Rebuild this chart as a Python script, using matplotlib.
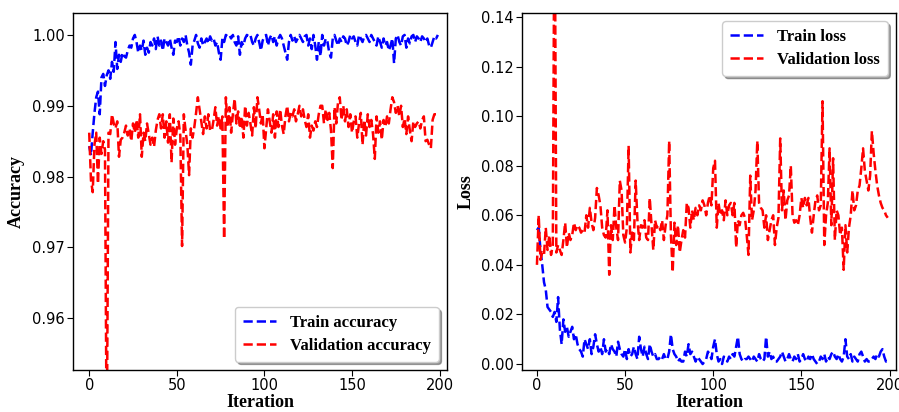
#!/usr/bin/env python3
import matplotlib
matplotlib.use("Agg")
import matplotlib.pyplot as plt
import numpy as np

# ─── Data ──────────────────────────────────────────────────────────────────────
TRAIN_ACC = [
    0.9843, 0.9830, 0.9862, 0.9890, 0.9912, 0.9920, 0.9888, 0.9940, 0.9945, 0.9928,
    0.9943, 0.9950, 0.9938, 0.9962, 0.9948, 0.9990, 0.9952, 0.9972, 0.9962, 0.9975,
    0.9970, 0.9968, 0.9978, 0.9985, 0.9982, 0.9995, 1.0000, 0.9990, 0.9975, 0.9985,
    0.9978, 0.9992, 0.9972, 0.9982, 0.9975, 0.9990, 0.9985, 0.9995, 0.9980, 0.9998,
    0.9985, 0.9992, 0.9978, 0.9995, 0.9990, 0.9985, 0.9995, 0.9982, 0.9972, 0.9992,
    0.9990, 0.9998, 0.9985, 0.9995, 0.9990, 1.0000, 0.9985, 0.9975, 0.9958, 0.9985,
    0.9992, 1.0000, 0.9988, 0.9982, 0.9995, 0.9985, 0.9990, 0.9995, 0.9988, 0.9998,
    0.9992, 0.9995, 0.9985, 0.9990, 0.9975, 0.9965, 0.9995, 0.9990, 1.0000, 0.9998,
    1.0000, 0.9995, 1.0000, 0.9990, 0.9985, 0.9998, 0.9972, 0.9990, 0.9985, 0.9995,
    1.0000, 0.9998, 1.0000, 0.9990, 0.9985, 0.9995, 1.0000, 0.9990, 0.9978, 0.9992,
    0.9998, 1.0000, 0.9985, 0.9995, 1.0000, 0.9990, 0.9998, 0.9985, 0.9995, 1.0000,
    0.9995, 0.9985, 0.9975, 0.9965, 0.9990, 1.0000, 0.9992, 0.9998, 0.9990, 0.9995,
    1.0000, 0.9995, 0.9990, 0.9998, 1.0000, 0.9985, 0.9995, 0.9980, 1.0000, 0.9985,
    0.9965, 0.9990, 0.9970, 1.0000, 0.9985, 0.9995, 0.9990, 0.9975, 0.9968, 0.9995,
    1.0000, 0.9992, 0.9985, 0.9995, 0.9990, 0.9998, 0.9995, 0.9985, 0.9990, 1.0000,
    0.9995, 0.9998, 0.9990, 0.9985, 1.0000, 0.9995, 0.9990, 0.9998, 1.0000, 0.9995,
    0.9990, 1.0000, 0.9995, 0.9990, 0.9985, 0.9998, 0.9990, 0.9982, 0.9995, 0.9985,
    0.9990, 0.9978, 0.9985, 0.9995, 0.9960, 0.9995, 1.0000, 0.9990, 0.9985, 0.9998,
    1.0000, 0.9982, 0.9995, 0.9988, 0.9998, 1.0000, 0.9990, 0.9998, 0.9995, 0.9990,
    0.9998, 0.9995, 0.9990, 0.9995, 0.9985, 0.9982, 0.9990, 0.9998, 0.9995, 1.0000,
]
VAL_ACC = [
    0.9862, 0.9795, 0.9778, 0.9845, 0.9862, 0.9790, 0.9855, 0.9832, 0.9850, 0.9838,
    0.9400, 0.9862, 0.9860, 0.9888, 0.9875, 0.9868, 0.9878, 0.9828, 0.9852, 0.9855,
    0.9862, 0.9872, 0.9858, 0.9868, 0.9850, 0.9875, 0.9862, 0.9880, 0.9855, 0.9888,
    0.9828, 0.9862, 0.9850, 0.9875, 0.9860, 0.9845, 0.9855, 0.9842, 0.9865, 0.9880,
    0.9888, 0.9868, 0.9888, 0.9855, 0.9878, 0.9848, 0.9888, 0.9820, 0.9882, 0.9845,
    0.9868, 0.9878, 0.9858, 0.9702, 0.9888, 0.9865, 0.9845, 0.9802, 0.9868, 0.9855,
    0.9870, 0.9890, 0.9912, 0.9895, 0.9878, 0.9860, 0.9885, 0.9868, 0.9888, 0.9865,
    0.9865, 0.9880, 0.9898, 0.9872, 0.9885, 0.9868, 0.9885, 0.9712, 0.9912, 0.9870,
    0.9898, 0.9862, 0.9888, 0.9910, 0.9875, 0.9892, 0.9868, 0.9885, 0.9855, 0.9900,
    0.9872, 0.9890, 0.9875, 0.9858, 0.9898, 0.9868, 0.9912, 0.9895, 0.9875, 0.9888,
    0.9840, 0.9868, 0.9895, 0.9878, 0.9862, 0.9888, 0.9855, 0.9892, 0.9870, 0.9895,
    0.9872, 0.9860, 0.9885, 0.9900, 0.9878, 0.9890, 0.9885, 0.9895, 0.9878, 0.9888,
    0.9900, 0.9885, 0.9895, 0.9880, 0.9870, 0.9888, 0.9855, 0.9872, 0.9865, 0.9878,
    0.9870, 0.9888, 0.9900, 0.9900, 0.9875, 0.9895, 0.9880, 0.9890, 0.9865, 0.9812,
    0.9898, 0.9875, 0.9905, 0.9912, 0.9880, 0.9900, 0.9878, 0.9895, 0.9870, 0.9888,
    0.9862, 0.9878, 0.9885, 0.9855, 0.9875, 0.9890, 0.9845, 0.9880, 0.9858, 0.9888,
    0.9870, 0.9880, 0.9860, 0.9825, 0.9885, 0.9862, 0.9878, 0.9852, 0.9880, 0.9870,
    0.9885, 0.9875, 0.9895, 0.9912, 0.9905, 0.9890, 0.9900, 0.9885, 0.9900, 0.9870,
    0.9882, 0.9860, 0.9885, 0.9865, 0.9850, 0.9878, 0.9870, 0.9875, 0.9878, 0.9868,
    0.9880, 0.9885, 0.9850, 0.9852, 0.9845, 0.9840, 0.9880, 0.9888, 0.9888, 0.9888,
]
TRAIN_LOSS = [
    0.054, 0.055, 0.046, 0.040, 0.033, 0.030, 0.023, 0.022, 0.021, 0.019,
    0.021, 0.017, 0.027, 0.014, 0.008, 0.018, 0.013, 0.015, 0.011, 0.013,
    0.015, 0.010, 0.012, 0.008, 0.006, 0.005, 0.003, 0.010, 0.008, 0.006,
    0.010, 0.004, 0.007, 0.012, 0.008, 0.005, 0.007, 0.004, 0.010, 0.005,
    0.006, 0.004, 0.008, 0.006, 0.005, 0.003, 0.009, 0.006, 0.004, 0.003,
    0.006, 0.002, 0.006, 0.003, 0.004, 0.007, 0.004, 0.002, 0.011, 0.006,
    0.003, 0.007, 0.004, 0.002, 0.008, 0.005, 0.003, 0.004, 0.002, 0.002,
    0.003, 0.002, 0.004, 0.002, 0.002, 0.005, 0.012, 0.006, 0.004, 0.003,
    0.001, 0.002, 0.001, 0.001, 0.005, 0.003, 0.008, 0.004, 0.005, 0.003,
    0.001, 0.003, 0.002, 0.001, 0.000, 0.001, 0.002, 0.005, 0.004, 0.002,
    0.007, 0.010, 0.004, 0.001, 0.002, 0.000, 0.003, 0.002, 0.001, 0.003,
    0.002, 0.004, 0.003, 0.007, 0.011, 0.004, 0.002, 0.001, 0.002, 0.002,
    0.003, 0.002, 0.001, 0.003, 0.002, 0.001, 0.004, 0.002, 0.001, 0.002,
    0.011, 0.003, 0.005, 0.002, 0.003, 0.001, 0.001, 0.002, 0.003, 0.005,
    0.003, 0.001, 0.002, 0.004, 0.002, 0.001, 0.003, 0.002, 0.004, 0.001,
    0.002, 0.004, 0.002, 0.001, 0.003, 0.002, 0.004, 0.002, 0.001, 0.000,
    0.001, 0.003, 0.002, 0.004, 0.001, 0.003, 0.002, 0.004, 0.005, 0.003,
    0.002, 0.004, 0.002, 0.001, 0.003, 0.010, 0.003, 0.002, 0.004, 0.001,
    0.003, 0.002, 0.001, 0.004, 0.005, 0.003, 0.001, 0.002, 0.001, 0.001,
    0.002, 0.003, 0.002, 0.004, 0.003, 0.005, 0.006, 0.003, 0.001, 0.001,
]
VAL_LOSS = [
    0.040, 0.060, 0.042, 0.045, 0.044, 0.055, 0.046, 0.052, 0.044, 0.048,
    0.200, 0.045, 0.048, 0.046, 0.044, 0.050, 0.057, 0.047, 0.053, 0.050,
    0.052, 0.057, 0.054, 0.056, 0.055, 0.053, 0.054, 0.053, 0.060, 0.055,
    0.063, 0.057, 0.054, 0.059, 0.071, 0.068, 0.064, 0.055, 0.052, 0.051,
    0.062, 0.036, 0.056, 0.050, 0.064, 0.055, 0.050, 0.074, 0.070, 0.052,
    0.049, 0.055, 0.088, 0.045, 0.053, 0.050, 0.074, 0.058, 0.050, 0.056,
    0.055, 0.058, 0.051, 0.050, 0.067, 0.056, 0.046, 0.058, 0.055, 0.056,
    0.054, 0.058, 0.050, 0.056, 0.060, 0.090, 0.052, 0.037, 0.057, 0.048,
    0.056, 0.045, 0.050, 0.054, 0.051, 0.065, 0.063, 0.055, 0.062, 0.058,
    0.063, 0.060, 0.064, 0.062, 0.066, 0.064, 0.060, 0.065, 0.068, 0.064,
    0.079, 0.082, 0.055, 0.065, 0.060, 0.062, 0.058, 0.066, 0.060, 0.064,
    0.065, 0.060, 0.065, 0.047, 0.058, 0.056, 0.060, 0.061, 0.059, 0.052,
    0.044, 0.076, 0.058, 0.062, 0.070, 0.090, 0.065, 0.063, 0.062, 0.055,
    0.060, 0.050, 0.054, 0.058, 0.060, 0.048, 0.055, 0.059, 0.091, 0.062,
    0.070, 0.058, 0.066, 0.068, 0.080, 0.060, 0.057, 0.058, 0.056, 0.060,
    0.067, 0.063, 0.067, 0.064, 0.067, 0.059, 0.053, 0.060, 0.066, 0.068,
    0.062, 0.064, 0.106, 0.048, 0.060, 0.065, 0.087, 0.056, 0.083, 0.050,
    0.062, 0.060, 0.052, 0.055, 0.038, 0.056, 0.045, 0.055, 0.060, 0.070,
    0.062, 0.064, 0.070, 0.072, 0.079, 0.087, 0.078, 0.074, 0.070, 0.076,
    0.094, 0.085, 0.078, 0.072, 0.068, 0.065, 0.063, 0.062, 0.060, 0.059,
]
ACC_TICKS  = [0.96, 0.97, 0.98, 0.99, 1.00]
LOSS_TICKS = [0.00, 0.02, 0.04, 0.06, 0.08, 0.10, 0.12, 0.14]
X_TICKS    = [0, 50, 100, 150, 200]
# ────────────────────────────────────────────────────────────────────────────────

SERIF = ["Liberation Serif", "DejaVu Serif"]
plt.rcParams["font.family"] = ["DejaVu Sans"]
plt.rcParams["font.size"] = 10.5

iters = np.arange(len(TRAIN_ACC))
LEGEND_KW = dict(shadow=True, fancybox=True,
                 prop={"family": SERIF, "weight": "bold", "size": 12},
                 handlelength=2.0, borderpad=0.45, labelspacing=0.45,
                 handletextpad=0.85, borderaxespad=0.5)

fig = plt.figure(figsize=(8.99, 4.12), dpi=100)
ax1 = fig.add_axes([0.0815, 0.102, 0.4157, 0.8665])
ax2 = fig.add_axes([0.5810, 0.102, 0.4155, 0.8665])

def style_axis(ax, ylabel):
    ax.set_xlabel("Iteration", family=SERIF, fontweight="bold", fontsize=13, labelpad=0.5)
    ax.set_ylabel(ylabel, family=SERIF, fontweight="bold", fontsize=13, labelpad=5)
    ax.set_xticks(X_TICKS)
    ax.tick_params(length=4, width=0.8, pad=2)
    for sp in ax.spines.values():
        sp.set_linewidth(1.0)

# left: accuracy
ax1.plot(iters, TRAIN_ACC, "b--", lw=1.8, label="Train accuracy")
ax1.plot(iters, VAL_ACC, "r--", lw=1.8, label="Validation accuracy")
ax1.set_xlim(-9.1, 204.2)
ax1.set_ylim(0.9527, 1.0031)
ax1.set_yticks(ACC_TICKS)
ax1.set_yticklabels([f"{t:.2f}" for t in ACC_TICKS])
style_axis(ax1, "Accuracy")
ax1.legend(loc="lower right", **LEGEND_KW)

# right: loss
ax2.plot(iters, TRAIN_LOSS, "b--", lw=1.8, label="Train loss")
ax2.plot(iters, VAL_LOSS, "r--", lw=1.8, label="Validation loss")
ax2.set_xlim(-8.3, 203.6)
ax2.set_ylim(-0.0024, 0.1416)
ax2.set_yticks(LOSS_TICKS)
ax2.set_yticklabels([f"{t:.2f}" for t in LOSS_TICKS])
style_axis(ax2, "Loss")
ax2.legend(loc="upper right", **LEGEND_KW)

fig.savefig("out.png", dpi=100)
